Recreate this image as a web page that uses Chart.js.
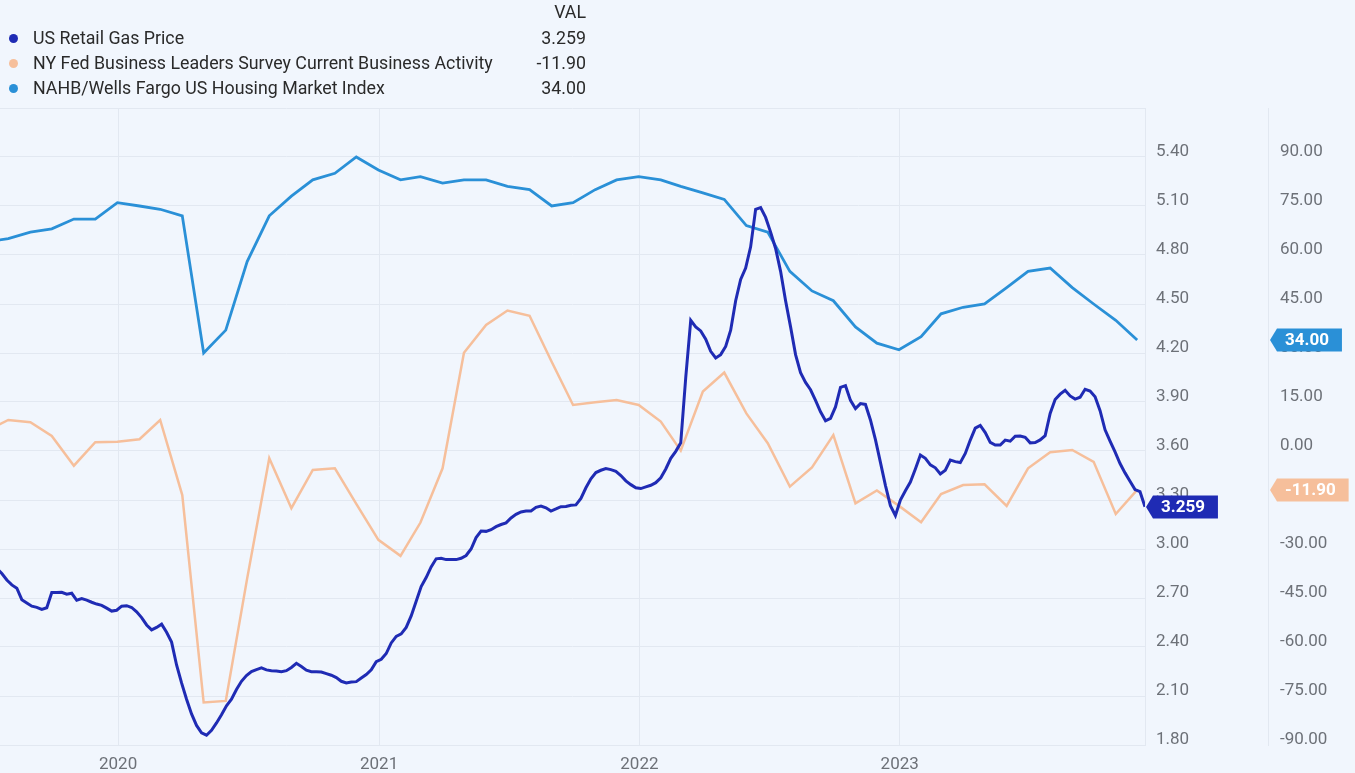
<!DOCTYPE html>
<html>
<head>
<meta charset="utf-8">
<script src="https://cdn.jsdelivr.net/npm/chart.js@4.4.0/dist/chart.umd.min.js"></script>
<style>
  html, body { margin: 0; padding: 0; background: #f1f6fd; overflow: hidden; }
  #wrap { position: relative; width: 1355px; height: 773px; }
  #wrap canvas { position: absolute; left: 0; top: 0; }
  .lg { position: absolute; font-family: Roboto, sans-serif; font-size: 17.8px; color: #2a2a2a; line-height: 20px; white-space: nowrap; }
  .dot { position: absolute; width: 9px; height: 9px; border-radius: 50%; }
</style>
</head>
<body>
<div id="wrap">
  <canvas id="c"></canvas>
</div>
<script>
// ---------------- DATA ----------------
const seriesNames = [
  'US Retail Gas Price',
  'NY Fed Business Leaders Survey Current Business Activity',
  'NAHB/Wells Fargo US Housing Market Index'
];
const yearTicks = [2020, 2021, 2022, 2023];

// Weekly gas price, first observation date, one value per week
const gasStartDate = '2019-07-15';
const gasPrice = [
  2.88, 2.85, 2.81, 2.78, 2.76, 2.69, 2.67, 2.65, 2.643, 2.63,
  2.64, 2.733, 2.733, 2.735, 2.723, 2.729, 2.686, 2.696, 2.687, 2.674,
  2.663, 2.655, 2.638, 2.62, 2.625, 2.65, 2.653, 2.642, 2.615, 2.58,
  2.535, 2.505, 2.52, 2.54, 2.49, 2.43, 2.29, 2.18, 2.08, 1.99,
  1.92, 1.875, 1.86, 1.89, 1.935, 1.985, 2.04, 2.08, 2.14, 2.19,
  2.225, 2.25, 2.262, 2.272, 2.26, 2.255, 2.253, 2.249, 2.255, 2.275,
  2.30, 2.28, 2.258, 2.249, 2.249, 2.247, 2.237, 2.227, 2.213, 2.19,
  2.18, 2.186, 2.188, 2.21, 2.231, 2.26, 2.31, 2.325, 2.36, 2.425,
  2.465, 2.48, 2.52, 2.59, 2.68, 2.77, 2.825, 2.89, 2.94, 2.943,
  2.935, 2.935, 2.935, 2.943, 2.96, 3.0, 3.07, 3.11, 3.108, 3.118,
  3.137, 3.15, 3.16, 3.19, 3.212, 3.227, 3.232, 3.233, 3.255, 3.263,
  3.252, 3.232, 3.245, 3.259, 3.26, 3.268, 3.27, 3.31, 3.375, 3.43,
  3.468, 3.482, 3.492, 3.486, 3.476, 3.45, 3.417, 3.394, 3.375, 3.37,
  3.38, 3.39, 3.406, 3.436, 3.49, 3.555, 3.598, 3.65, 4.05, 4.40,
  4.36, 4.335, 4.285, 4.21, 4.17, 4.19, 4.24, 4.34, 4.52, 4.65,
  4.72, 4.85, 5.08, 5.09, 5.03, 4.94, 4.84, 4.70, 4.52, 4.36,
  4.19, 4.08, 4.02, 3.975, 3.91, 3.84, 3.785, 3.80, 3.87, 3.99,
  4.0, 3.91, 3.86, 3.89, 3.885, 3.79, 3.67, 3.53, 3.39, 3.265,
  3.205, 3.30, 3.357, 3.41, 3.49, 3.575, 3.555, 3.515, 3.497, 3.46,
  3.482, 3.545, 3.535, 3.529, 3.585, 3.667, 3.74, 3.757, 3.713, 3.653,
  3.637, 3.637, 3.667, 3.66, 3.69, 3.692, 3.684, 3.65, 3.652, 3.668,
  3.694, 3.83, 3.915, 3.948, 3.972, 3.937, 3.918, 3.929, 3.978, 3.967,
  3.932, 3.847, 3.73, 3.66, 3.594, 3.523, 3.466, 3.415, 3.364, 3.351,
  3.259
];

// Monthly series, observations stamped at month end, starting June 2019
const monthlyStart = { year: 2019, month: 6 };
const nyFedActivity = [
  6.1, 9.5, 8.8, 4.6, -4.5, 2.7, 2.8,
  3.6, 9.5, -13.5, -77.0, -76.5, -39.0, -2.2, -17.5, -5.8, -5.3, -16.2, -27.2,
  -32.1, -21.9, -5.3, 30.1, 38.6, 43.0, 41.4, 27.3, 14.1, 14.9, 15.6, 14.1,
  9.0, 0.1, 18.2, 24.0, 11.5, 2.4, -10.9, -5.0, 4.9, -16.0, -12.1, -16.8,
  -21.8, -13.2, -10.4, -10.2, -16.8, -5.3, -0.4, 0.3, -3.3, -19.3, -11.9
];
const nahbIndex = [
  64, 65, 67, 68, 71, 71, 76,
  75, 74, 72, 30, 37, 58, 72, 78, 83, 85, 90, 86,
  83, 84, 82, 83, 83, 81, 80, 75, 76, 80, 83, 84,
  83, 81, 79, 77, 69, 67, 55, 49, 46, 38, 33, 31,
  35, 42, 44, 45, 50, 55, 56, 50, 45, 40, 34
];

// ---------------- STYLE ----------------
const gasColor = '#1f2bb4';
const nyColor = '#f6bf9b';
const nahbColor = '#2a90d7';
const gridColor = '#e2e8f1';
const tickColor = '#6d7178';
const FONT = 'Roboto, "Noto Sans", sans-serif';

const dayOf = (s) => Date.parse(s + 'T00:00:00Z') / 864e5;
const dayUTC = (y, m, d) => Date.UTC(y, m, d) / 864e5;

const gasPoints = gasPrice.map((v, i) => ({ x: dayOf(gasStartDate) + 7 * i, y: v }));
const monthEndX = (i) => {
  const mi = monthlyStart.month - 1 + i;
  const y = monthlyStart.year + Math.floor(mi / 12);
  const m = mi % 12;
  return dayUTC(y, m + 1, 0);
};
const nyPoints = nyFedActivity.map((v, i) => ({ x: monthEndX(i), y: v }));
const nahbPoints = nahbIndex.map((v, i) => ({ x: monthEndX(i), y: v }));

const xMin = dayOf('2019-07-19') + 0.4;
const xMax = gasPoints[gasPoints.length - 1].x;

// ---------------- LEGEND (HTML) ----------------
const lastVals = [
  gasPrice[gasPrice.length - 1].toFixed(3),
  nyFedActivity[nyFedActivity.length - 1].toFixed(2),
  nahbIndex[nahbIndex.length - 1].toFixed(2)
];
const colors = [gasColor, nyColor, nahbColor];
const wrap = document.getElementById('wrap');
function addDiv(cls, style, text) {
  const d = document.createElement('div');
  d.className = cls;
  Object.assign(d.style, style);
  if (text !== undefined) d.textContent = text;
  wrap.appendChild(d);
  return d;
}
addDiv('lg', { right: (1355 - 586) + 'px', top: '2px' }, 'VAL');
seriesNames.forEach((name, i) => {
  const cy = 38 + 25 * i;
  addDiv('dot', { left: '9px', top: (cy - 4.5) + 'px', background: colors[i] });
  addDiv('lg', { left: '33px', top: (cy - 10) + 'px' }, name);
  addDiv('lg', { right: (1355 - 586) + 'px', top: (cy - 10) + 'px' }, lastVals[i]);
});

// ---------------- TAG PLUGIN ----------------
const tagPlugin = {
  id: 'valueTags',
  afterDraw(chart) {
    const ctx = chart.ctx;
    const yG = chart.scales.yGas, yI = chart.scales.yIdx;
    const tags = [
      { y: yI.getPixelForValue(nahbIndex[nahbIndex.length - 1]), text: lastVals[2], color: nahbColor, x: yI.left + 2 },
      { y: yI.getPixelForValue(nyFedActivity[nyFedActivity.length - 1]), text: lastVals[1], color: nyColor, x: yI.left + 2 },
      { y: yG.getPixelForValue(gasPrice[gasPrice.length - 1]), text: lastVals[0], color: gasColor, x: chart.chartArea.right + 1 }
    ];
    ctx.save();
    ctx.font = 'bold 17px ' + FONT;
    tags.forEach(t => {
      const w = ctx.measureText(t.text).width;
      const h = 23, arrow = 7;
      const x0 = t.x, cy = Math.round(t.y);
      ctx.fillStyle = t.color;
      ctx.beginPath();
      ctx.moveTo(x0, cy);
      ctx.lineTo(x0 + arrow, cy - h / 2);
      ctx.lineTo(x0 + arrow + 8 + w + 13, cy - h / 2);
      ctx.lineTo(x0 + arrow + 8 + w + 13, cy + h / 2);
      ctx.lineTo(x0 + arrow, cy + h / 2);
      ctx.closePath();
      ctx.fill();
      ctx.fillStyle = '#ffffff';
      ctx.textBaseline = 'middle';
      ctx.textAlign = 'left';
      ctx.fillText(t.text, x0 + arrow + 8, cy + 1);
    });
    ctx.restore();
  }
};

// ---------------- CHART ----------------
Chart.defaults.font.family = FONT;
Chart.defaults.font.size = 17;
Chart.defaults.color = tickColor;

new Chart(document.getElementById('c'), {
  type: 'line',
  data: {
    datasets: [
      { label: seriesNames[0], data: gasPoints, yAxisID: 'yGas', borderColor: gasColor, borderWidth: 3, pointRadius: 0, tension: 0 },
      { label: seriesNames[2], data: nahbPoints, yAxisID: 'yIdx', borderColor: nahbColor, borderWidth: 2.8, pointRadius: 0, tension: 0 },
      { label: seriesNames[1], data: nyPoints, yAxisID: 'yIdx', borderColor: nyColor, borderWidth: 2.5, pointRadius: 0, tension: 0 }
    ]
  },
  options: {
    responsive: true,
    maintainAspectRatio: false,
    animation: false,
    events: [],
    layout: { padding: { top: 108, left: 0, right: 0, bottom: 0 } },
    plugins: { legend: { display: false }, tooltip: { enabled: false } },
    scales: {
      x: {
        type: 'linear',
        min: xMin,
        max: xMax,
        afterBuildTicks: (scale) => { scale.ticks = yearTicks.map(y => ({ value: dayUTC(y, 0, 1) })); },
        ticks: {
          padding: 10,
          color: tickColor,
          autoSkip: false,
          maxRotation: 0,
          callback: (v) => String(new Date(v * 864e5).getUTCFullYear())
        },
        grid: { color: gridColor, drawTicks: false },
        border: { display: true, color: gridColor },
        afterFit: (scale) => { scale.height = 28; }
      },
      yGas: {
        type: 'linear',
        position: 'right',
        min: 1.8,
        max: 5.7,
        ticks: {
          stepSize: 0.3,
          padding: 11,
          labelOffset: -5,
          color: tickColor,
          callback: (v) => (v > 5.55 ? '' : Number(v).toFixed(2))
        },
        grid: { color: gridColor, drawTicks: false },
        border: { display: true, color: gridColor },
        afterFit: (scale) => { scale.width = 123; }
      },
      yIdx: {
        type: 'linear',
        position: 'right',
        min: -90,
        max: 105,
        ticks: {
          stepSize: 15,
          padding: 12,
          labelOffset: -5,
          color: tickColor,
          callback: (v) => (v > 97 ? '' : Number(v).toFixed(2))
        },
        grid: { display: false, drawTicks: false },
        border: { display: true, color: gridColor },
        afterFit: (scale) => { scale.width = 87; }
      }
    }
  },
  plugins: [tagPlugin]
});
</script>
</body>
</html>
